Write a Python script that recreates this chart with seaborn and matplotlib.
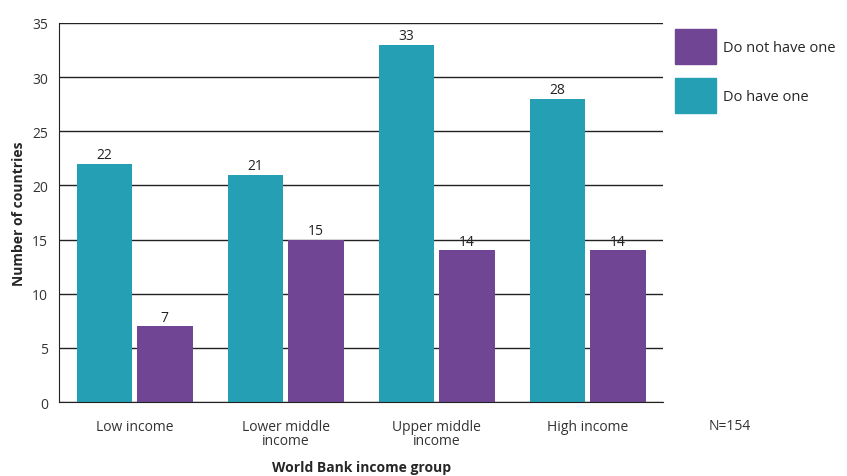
import pandas as pd
import seaborn as sns
import matplotlib.pyplot as plt

# data
groups = ['Low income', 'Lower middle\nincome', 'Upper middle\nincome', 'High income']
have_one = [22, 21, 33, 28]
not_have_one = [7, 15, 14, 14]

df = pd.DataFrame({
    'group': groups * 2,
    'count': have_one + not_have_one,
    'status': ['Do have one'] * 4 + ['Do not have one'] * 4,
})

teal = '#259FB3'
purple = '#704593'

sns.set_style('white')
plt.rcParams['font.family'] = ['Open Sans', 'DejaVu Sans']

fig = plt.figure(figsize=(8.47, 4.77), dpi=100)
ax = fig.add_axes([0.0697, 0.155, 0.7133, 0.795])

sns.barplot(data=df, x='group', y='count', hue='status',
            hue_order=['Do have one', 'Do not have one'],
            palette=[teal, purple], width=0.8, gap=0.08,
            saturation=1, linewidth=0, ax=ax, legend=False)

# value labels above the bars
for cont in ax.containers:
    ax.bar_label(cont, padding=1, fontsize=10, color='#222222')

ax.set_xlim(-0.5, 3.5)
ax.set_ylim(0, 35)
ax.set_yticks(range(0, 36, 5))
ax.yaxis.grid(True, color='#222222', linewidth=1)
ax.set_axisbelow(True)
for s in ['top', 'right']:
    ax.spines[s].set_visible(False)
ax.spines['left'].set_color('#222222')
ax.spines['bottom'].set_color('#222222')

ax.tick_params(axis='x', which='major', length=0, pad=12, labelsize=10, labelcolor='#333333')
ax.tick_params(axis='y', length=0, pad=8, labelsize=10, labelcolor='#333333')
ax.set_xticks([0.5, 1.5, 2.5, 3.5], minor=True)
ax.tick_params(axis='x', which='minor', direction='in', length=6, color='#222222')
for lab in ax.get_xticklabels():
    lab.set_linespacing(0.9)

ax.set_xlabel('World Bank income group', fontsize=10, fontweight='bold', labelpad=9)
ax.set_ylabel('Number of countries', fontsize=10, fontweight='bold', labelpad=4)

handles = [plt.Rectangle((0, 0), 1, 1, color=purple),
           plt.Rectangle((0, 0), 1, 1, color=teal)]
fig.legend(handles, ['Do not have one', 'Do have one'],
           loc='upper left', bbox_to_anchor=(0.797, 0.938), frameon=False,
           handlelength=2.8, handleheight=3.4, handletextpad=0.5,
           labelspacing=0.9, fontsize=10.5, borderaxespad=0, borderpad=0)

fig.text(0.862, 0.106, 'N=154', ha='center', va='center', fontsize=10, color='#333333')

fig.savefig('out.png', dpi=100)
